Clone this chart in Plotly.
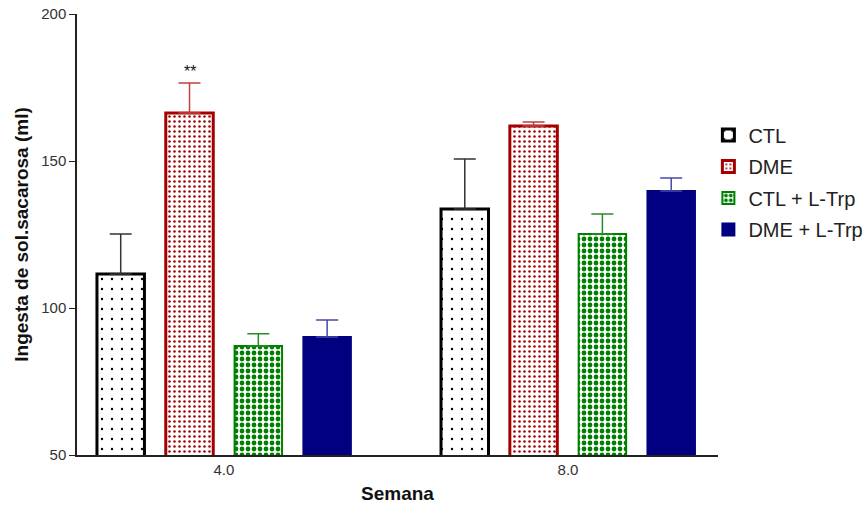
import plotly.graph_objects as go

weeks = ["4.0", "8.0"]
series = ["CTL", "DME", "CTL + L-Trp", "DME + L-Trp"]
means = {
    "CTL": [111.6, 133.7],
    "DME": [166.3, 161.9],
    "CTL + L-Trp": [87.1, 125.2],
    "DME + L-Trp": [90.1, 139.8],
}
errors = {
    "CTL": [13.6, 17.0],
    "DME": [10.2, 1.4],
    "CTL + L-Trp": [4.1, 6.8],
    "DME + L-Trp": [5.8, 4.4],
}
yticks = [50, 100, 150, 200]

styles = {
    "CTL": dict(line="#000000", fg="#000000", shape=".", size=10, sol=0.045, err="#333333", bg="#ffffff"),
    "DME": dict(line="#a50000", fg="#a50000", shape=".", size=5, sol=0.2, err="#c04040", bg="#ffffff"),
    "CTL + L-Trp": dict(line="#008000", fg="#008000", shape=".", size=6, sol=0.5, err="#2a8a2a", bg="#ffffff"),
    "DME + L-Trp": dict(line="#000080", fg=None, shape="", size=8, sol=0.3, err="#4848a8", bg="#000080"),
}

bargap = 0.2
bargroupgap = 0.31
xpos = [0, 1]

fig = go.Figure()
for i, s in enumerate(series):
    st = styles[s]
    marker = dict(color=st["bg"], line=dict(color=st["line"], width=3 if i < 2 else 2))
    if st["shape"]:
        marker["pattern"] = dict(shape=st["shape"], fgcolor=st["fg"], bgcolor="#ffffff",
                                 size=st["size"], solidity=st["sol"], fillmode="overlay",
                                 fgopacity=1)
    fig.add_trace(go.Bar(
        x=xpos, y=means[s], name=s, marker=marker, legendgroup=s,
        error_y=dict(type="data", array=errors[s], symmetric=False,
                     arrayminus=[0] * len(xpos), color=st["err"], thickness=1.5, width=11),
    ))

slot = (1 - bargap) / len(series)
dme_x = xpos[0] + (1 - 1.5) * slot
fig.add_annotation(x=dme_x, y=means["DME"][0] + errors["DME"][0], text="**",
                   showarrow=False, yanchor="bottom", yshift=1,
                   font=dict(family="Liberation Sans, Arial", size=16, color="#111111"))

fig.update_layout(
    width=868, height=510,
    margin=dict(l=77, r=150, t=14, b=55, autoexpand=False),
    plot_bgcolor="white", paper_bgcolor="white",
    barmode="group", bargap=bargap, bargroupgap=bargroupgap,
    font=dict(family="Liberation Sans, Arial", size=15, color="#333333"),
    legend=dict(x=0.985, y=0.77, xanchor="left", yanchor="top",
                font=dict(size=20, color="#222222"), tracegroupgap=2.5,
                bgcolor="rgba(0,0,0,0)"),
    xaxis=dict(range=[-0.427, 1.436], tickvals=xpos, ticktext=weeks, automargin=False,
               showline=True, linecolor="#222222", linewidth=1.5, ticks="",
               showgrid=False, zeroline=False, tickfont=dict(size=15),
               title=dict(text="<b>Semana</b>", font=dict(size=19, color="#111111"), standoff=10)),
    yaxis=dict(range=[50, 200], tickvals=yticks, showline=True, linecolor="#222222",
               linewidth=1.5, ticks="outside", ticklen=6, tickcolor="#222222", automargin=False,
               showgrid=False, zeroline=False, tickfont=dict(size=15),
               title=dict(text="<b>Ingesta de sol.sacarosa (ml)</b>",
                          font=dict(size=19, color="#111111"), standoff=8)),
)

fig.write_html("out.html", config={"displayModeBar": False},
               post_script="document.body.style.margin='0';")
